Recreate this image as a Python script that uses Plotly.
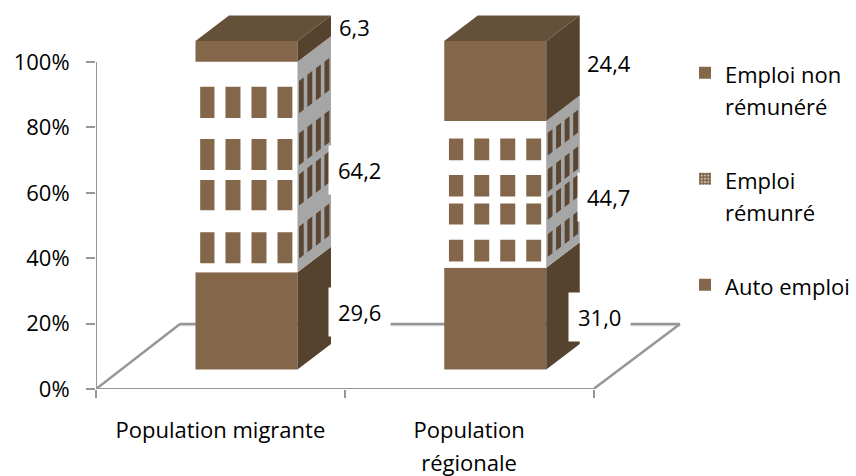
import plotly.graph_objects as go

# ---- data ----
categories = ["Population migrante", "Population<br>régionale"]
auto_emploi = [29.6, 31.0]
emploi_remunere = [64.2, 44.7]
emploi_non_remunere = [6.3, 24.4]
y_ticks = [0, 20, 40, 60, 80, 100]
y_tick_labels = ["0%", "20%", "40%", "60%", "80%", "100%"]

# ---- style / geometry ----
FONT = "Open Sans"
FS = 22
LINE_FS = 25   # font-size that gives the reference's wide line spacing
BROWN = "#84674a"
TOP = "#65503a"
SIDE = "#56432f"
GREY_SIDE = "#a6a6a6"
WIN_SIDE = "#5a4632"
AXIS = "#969696"
PX_X = 248.75
PX_Y = 3.27
ORIGIN_X = 96
ORIGIN_Y = 389
BAR_W = 102 / PX_X
BAR_CENTER = 0.605
DX = 33.5 / PX_X
DY = 25.5 / PX_Y
BASE = 6.0
K = 1.003
ROWS = [(0.119, 0.267), (0.367, 0.514), (0.562, 0.705), (0.81, 0.957)]
COLS = [(0.046, 0.186), (0.294, 0.441), (0.549, 0.696), (0.804, 0.95)]
LABEL_PX = [
    [(359, 312), (359, 170), (354, 27)],
    [(599, 317), (608, 197), (609, 63)],
]
LABEL_PAD = [9, 9, 5]


def small(t):
    return "<br>".join(f'<span style="font-size:{FS}px">{p}</span>' for p in t.split("<br>"))


def dx_of(px):
    return (px - ORIGIN_X) / PX_X


def dy_of(py):
    return (ORIGIN_Y - py) / PX_Y


series = [auto_emploi, emploi_remunere, emploi_non_remunere]
names = ["Auto emploi", "Emploi<br>rémunré", "Emploi non<br>rémunéré"]
ranks = [3, 2, 1]
xc = [i + BAR_CENTER for i in range(len(categories))]

fig = go.Figure()

# stack bases
bases = []
run = [BASE] * len(categories)
for s in series:
    bases.append(list(run))
    run = [r + v * K for r, v in zip(run, s)]

# front faces
for j, s in enumerate(series):
    solid = j != 1
    fig.add_trace(go.Bar(
        x=xc, y=[v * K for v in s], base=bases[j], width=BAR_W,
        marker=dict(color=BROWN if solid else "white", line=dict(width=0)),
        name=small(names[j]), legendgroup=f"g{j}", legendrank=ranks[j],
        showlegend=solid, hoverinfo="skip",
    ))
# legend key of the patterned series
fig.add_trace(go.Bar(
    x=[xc[0]], y=[0], base=[0], width=BAR_W,
    marker=dict(color="white", line=dict(width=0),
                pattern=dict(shape=".", fgcolor=BROWN, bgcolor="white", size=4, solidity=0.8, fgopacity=1)),
    name=small(names[1]), legendgroup="g1", legendrank=ranks[1], hoverinfo="skip",
))


def poly_trace(xs, ys, color):
    fig.add_trace(go.Scatter(x=xs, y=ys, mode="lines", fill="toself", fillcolor=color,
                             line=dict(width=0, color=color), showlegend=False, hoverinfo="skip"))


# side and top faces
for j, s in enumerate(series):
    xs, ys = [], []
    for i in range(len(categories)):
        xr = xc[i] + BAR_W / 2
        y0, y1 = bases[j][i], bases[j][i] + s[i] * K
        xs += [xr, xr + DX, xr + DX, xr, xr, None]
        ys += [y0, y0 + DY, y1 + DY, y1, y0, None]
    poly_trace(xs, ys, GREY_SIDE if j == 1 else SIDE)

xs, ys = [], []
for i in range(len(categories)):
    xl, xr = xc[i] - BAR_W / 2, xc[i] + BAR_W / 2
    t = run[i]
    xs += [xl, xl + DX, xr + DX, xr, xl, None]
    ys += [t, t + DY, t + DY, t, t, None]
poly_trace(xs, ys, TOP)

# windows of the patterned block
fx, fy, sx, sy = [], [], [], []
for i in range(len(categories)):
    xl = xc[i] - BAR_W / 2
    xr = xc[i] + BAR_W / 2
    top = bases[1][i] + emploi_remunere[i] * K
    h = emploi_remunere[i] * K
    for r0, r1 in ROWS:
        yt, yb = top - r0 * h, top - r1 * h
        for c0, c1 in COLS:
            a, b = xl + c0 * BAR_W, xl + c1 * BAR_W
            fx += [a, b, b, a, a, None]
            fy += [yb, yb, yt, yt, yb, None]
            a2, b2 = xr + c0 * DX, xr + c1 * DX
            lift = 4.5 / PX_Y
            ya, yc = c0 * DY + lift, c1 * DY + lift
            sx += [a2, b2, b2, a2, a2, None]
            sy += [yb + ya - 0.3, yb + yc - 0.3, yt + yc, yt + ya, yb + ya - 0.3, None]
poly_trace(fx, fy, BROWN)
poly_trace(sx, sy, WIN_SIDE)

# floor and axes (below the bars)
fb_x = [0, dx_of(180), dx_of(680), 2]
fb_y = [0, dy_of(324), dy_of(324), 0]
shapes = [dict(type="line", layer="below", x0=fb_x[1], x1=fb_x[2], y0=fb_y[1] - 1.5 / PX_Y, y1=fb_y[2] - 1.5 / PX_Y,
               line=dict(color="#dcdcdc", width=1.5))]
for a, b in zip(range(3), range(1, 4)):
    shapes.append(dict(type="line", layer="below", x0=fb_x[a], x1=fb_x[b], y0=fb_y[a], y1=fb_y[b],
                       line=dict(color=AXIS, width=2.5)))
shapes.append(dict(type="line", layer="below", x0=0, x1=2, y0=0, y1=0, line=dict(color=AXIS, width=2)))
shapes.append(dict(type="line", layer="below", x0=0, x1=0, y0=0, y1=100, line=dict(color=AXIS, width=2)))

# value labels
annotations = []
for j, s in enumerate(series):
    for i in range(len(categories)):
        px, py = LABEL_PX[i][j]
        annotations.append(dict(
            x=dx_of(px), y=dy_of(py), text=f"{s[i]:.1f}".replace(".", ","), showarrow=False,
            font=dict(family=FONT, size=FS, color="black"), bgcolor="white", borderpad=LABEL_PAD[j],
            xanchor="center", yanchor="middle"))

fig.update_layout(
    width=856, height=476, autosize=False,
    margin=dict(l=ORIGIN_X, r=856 - 700, t=0, b=476 - ORIGIN_Y, pad=0),
    paper_bgcolor="white", plot_bgcolor="rgba(0,0,0,0)",
    barmode="overlay", shapes=shapes, annotations=annotations,
    font=dict(family=FONT, size=FS, color="black"),
    xaxis=dict(range=[0, 604 / PX_X], showgrid=False, zeroline=False, showline=False,
               tickmode="array", tickvals=[0.5, 1.5], ticktext=[small(c) for c in categories],
               ticks="outside", ticklen=0, tickfont=dict(family=FONT, size=LINE_FS),
               ticklabelstandoff=18,
               minor=dict(tickmode="array", tickvals=[0, 1, 2], ticks="outside", ticklen=8,
                          tickwidth=2, tickcolor=AXIS, showgrid=False)),
    yaxis=dict(range=[0, ORIGIN_Y / PX_Y], showgrid=False, zeroline=False, showline=False,
               tickmode="array", tickvals=y_ticks, ticktext=y_tick_labels,
               ticks="outside", ticklen=9, tickwidth=2, tickcolor=AXIS,
               tickfont=dict(family=FONT, size=FS), ticklabelstandoff=12),
    legend=dict(x=(687 - ORIGIN_X) / 604, y=(ORIGIN_Y - 50) / ORIGIN_Y, xanchor="left", yanchor="top",
                font=dict(family=FONT, size=LINE_FS), tracegroupgap=38, bgcolor="rgba(0,0,0,0)",
                itemclick=False, itemdoubleclick=False, valign="top", indentation=-2),
    showlegend=True,
)

fig.write_html("out.html", config={"displayModeBar": False},
               post_script="document.body.style.margin='0';document.body.style.overflow='hidden';")
